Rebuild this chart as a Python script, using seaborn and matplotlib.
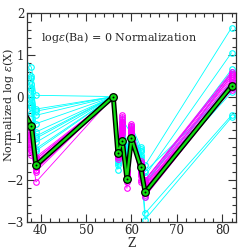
import matplotlib
matplotlib.use("Agg")
import matplotlib.pyplot as plt
from matplotlib.ticker import MultipleLocator
import numpy as np
import pandas as pd
import seaborn as sns

# Atomic numbers (Kr, Sr, Y, Ba, La, Ce, Pr, Nd, Sm, Eu, Pb)
Z = [36, 38, 39, 56, 57, 58, 59, 60, 62, 63, 82]

# mean pattern (green)
mean_pattern = [-0.30, -0.70, -1.65, 0.00, -1.35, -1.07, -1.98, -1.00, -1.68, -2.30, 0.25]

nan = np.nan
# cyan group, one row per star
cyan_stars = [
    [1.00, 0.70, 0.03, 0.0, -1.20, -0.80, -1.30, -0.90, -1.30, -1.65, 1.65],
    [0.90, 0.50, -0.30, 0.0, -1.40, -1.00, nan, -1.00, -1.50, -1.90, 1.05],
    [0.60, 0.45, -0.35, 0.0, -1.50, -0.90, -1.40, -0.85, -1.40, -2.80, -0.45],
    [0.30, 0.30, -0.45, 0.0, -1.60, -0.70, -1.30, -0.80, -1.60, -2.95, -0.50],
    [0.20, 0.15, -0.65, 0.0, -1.75, -0.60, -1.20, -0.75, -1.30, -2.10, 0.65],
    [-0.10, 0.00, -0.85, 0.0, -1.45, -0.95, -1.35, -0.95, -1.70, -2.40, 0.60],
    [-0.20, -0.10, -1.00, 0.0, -1.30, -0.55, nan, -0.90, -1.55, -2.20, 0.10],
    [-0.30, -0.25, -1.10, 0.0, -1.55, -1.10, -1.50, -1.05, -1.80, -2.05, 0.35],
    [0.10, -0.40, -1.25, 0.0, -1.35, -0.85, -1.25, -0.95, -1.45, -1.80, 0.20],
    [0.50, -0.20, -0.95, 0.0, -1.40, -0.65, -1.45, -1.10, -1.25, -2.00, 0.55],
    [0.70, 0.20, -1.30, 0.0, -1.65, -1.20, -1.35, -0.70, -1.20, -2.30, 0.30],
]

# magenta group, one row per star
magenta_stars = [
    [-0.70, -0.85, -1.45, 0.0, -1.25, -0.50, -1.75, -0.70, -1.55, -2.00, 0.60],
    [-0.80, -0.90, -1.50, 0.0, -1.30, -0.60, -1.80, -0.75, -1.60, -2.05, 0.55],
    [-0.90, -0.95, -1.55, 0.0, -1.35, -0.45, -1.85, -0.80, -1.65, -2.10, 0.50],
    [-1.00, -1.00, -1.60, 0.0, -1.40, -0.70, -1.90, -0.85, -1.70, -2.15, 0.45],
    [-0.60, -1.05, -1.65, 0.0, -1.45, -0.75, -1.95, -0.90, -1.75, -2.20, 0.40],
    [-1.10, -1.10, -1.70, 0.0, -1.50, -0.80, -2.00, -0.95, -1.80, -2.25, 0.35],
    [-0.90, -1.15, -1.75, 0.0, -1.30, -0.85, -2.05, -1.00, -1.85, -2.30, 0.30],
    [-1.20, -1.20, -1.80, 0.0, -1.35, -0.90, -2.20, -0.70, -1.90, -2.35, 0.25],
    [-1.00, -1.25, -1.60, 0.0, -1.40, -0.65, -1.85, -0.65, -2.00, -2.40, 0.20],
    [-1.30, -1.30, -2.05, 0.0, -1.45, -0.55, -1.90, -0.80, -2.05, -2.10, 0.15],
    [-1.10, -1.40, -1.75, 0.0, -1.20, -0.75, -1.80, -0.90, -1.60, -2.20, 0.50],
    [-0.80, -1.00, -1.50, 0.0, -1.30, -0.60, -1.95, -0.85, -1.70, -2.00, 0.55],
]


def to_long(rows, group):
    recs = []
    for i, row in enumerate(rows):
        for z, v in zip(Z, row):
            if not np.isnan(v):
                recs.append({"Z": z, "val": v, "star": f"{group}{i}", "group": group})
    return pd.DataFrame(recs)


sns.set_style("ticks")
plt.rcParams["font.family"] = ["DejaVu Serif"]
plt.rcParams["mathtext.fontset"] = "dejavuserif"

fig = plt.figure(figsize=(2.49, 2.49), dpi=100)
ax = fig.add_axes([0.108, 0.110, 0.840, 0.837])

for rows, name, col in [(cyan_stars, "c", "#00ffff"), (magenta_stars, "m", "#ff00ff")]:
    df = to_long(rows, name)
    sns.lineplot(data=df, x="Z", y="val", units="star", estimator=None, sort=False,
                 color=col, lw=0.6, marker="o", ms=4.0, mfc="none", mec=col, mew=0.8,
                 legend=False, ax=ax)

mean_df = pd.DataFrame({"Z": Z, "val": mean_pattern})
sns.lineplot(data=mean_df, x="Z", y="val", sort=False, color="black", lw=3.6,
             legend=False, ax=ax)
sns.lineplot(data=mean_df, x="Z", y="val", sort=False, color="#11dd11", lw=1.6,
             marker="o", ms=5.5, mfc="#11dd11", mec="black", mew=0.9,
             legend=False, ax=ax)
sns.scatterplot(data=mean_df, x="Z", y="val", color="black", s=2, linewidth=0,
                legend=False, ax=ax, zorder=5)

ax.set_xlim(37, 83)
ax.set_ylim(-3, 2)
ax.xaxis.set_major_locator(MultipleLocator(10))
ax.xaxis.set_minor_locator(MultipleLocator(2))
ax.yaxis.set_major_locator(MultipleLocator(1))
ax.yaxis.set_minor_locator(MultipleLocator(0.2))
ax.tick_params(which="both", direction="in", top=True, right=True, labelsize=8.5,
               pad=2, width=0.8, color="#333333")
ax.tick_params(which="major", length=6)
ax.tick_params(which="minor", length=3)
for s in ax.spines.values():
    s.set_linewidth(0.9)
    s.set_color("#333333")

ax.set_xlabel("Z", fontsize=8.5, labelpad=0)
ax.set_ylabel(r"Normalized log $\epsilon$(X)", fontsize=8)
ax.yaxis.set_label_coords(-0.052, 0.56)
ax.text(40, 1.42, r"log$\epsilon$(Ba) = 0 Normalization", fontsize=8, va="center")

fig.savefig("out.png", dpi=100)
plt.close(fig)
